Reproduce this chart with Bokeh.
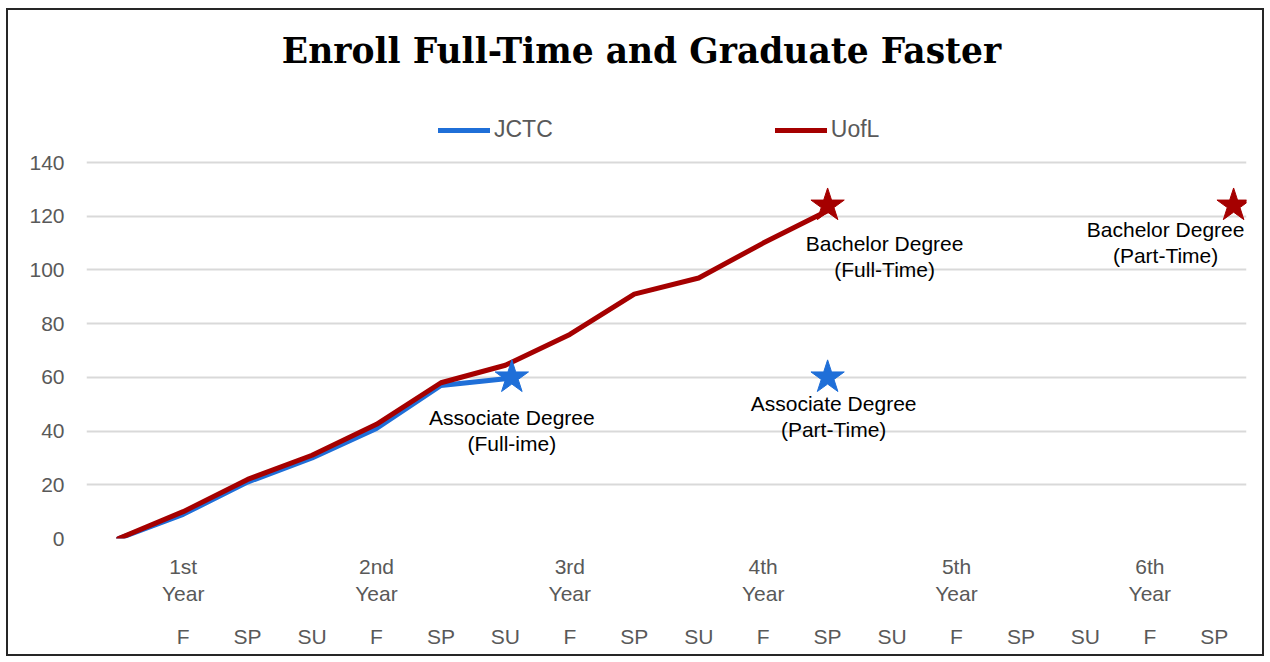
from bokeh.plotting import figure
from bokeh.models import Range1d, LinearAxis, FixedTicker, Label, Legend, LegendItem
from bokeh.embed import file_html
from bokeh.resources import INLINE

# ---------------- data ----------------
title_text = "Enroll Full-Time and Graduate Faster"
seasons = ["", "F", "SP", "SU", "F", "SP", "SU", "F", "SP", "SU",
           "F", "SP", "SU", "F", "SP", "SU", "F", "SP"]
years = ["1st\nYear", "2nd\nYear", "3rd\nYear", "4th\nYear", "5th\nYear", "6th\nYear"]
year_pos = [1, 4, 7, 10, 13, 16]
y_ticks = [0, 20, 40, 60, 80, 100, 120, 140]

series_names = ["JCTC", "UofL"]
jctc = [0, 9, 21, 30, 41, 57, 59.5]
uofl = [0, 10, 22, 31, 42.5, 58, 64.5, 76, 91, 97, 110, 122]

milestone_x = [6.1, 11, 11, 17.3]
milestone_y = [60, 60, 124, 124]
milestone_series = ["JCTC", "JCTC", "UofL", "UofL"]
milestone_labels = ["Associate Degree\n(Full-ime)", "Associate Degree\n(Part-Time)",
                    "Bachelor Degree\n(Full-Time)", "Bachelor Degree\n(Part-Time)"]

# ---------------- style / layout ----------------
colors = {"JCTC": "#1f6fd8", "UofL": "#a50000"}
label_offsets = [(0, -29), (6, -15), (57, -27), (-68, -13)]
FONT = "Liberation Sans"
GREY = "#595959"
Y_TOP = 196.6  # headroom above 140 that holds the title and legend

p = figure(width=1258, height=648, x_range=Range1d(-0.5, 17.5), y_range=Range1d(0, Y_TOP),
           x_axis_location=None, title_location=None, toolbar_location=None,
           output_backend="svg",
           min_border_left=78, min_border_right=20, min_border_top=0, min_border_bottom=120)
p.outline_line_color = None
p.styles = {"border": "2px solid #262626", "margin-left": "6px", "margin-top": "8px"}

# y axis
p.yaxis.ticker = FixedTicker(ticks=y_ticks)
p.yaxis.axis_line_color = None
p.yaxis.major_tick_line_color = None
p.yaxis.minor_tick_line_color = None
p.yaxis.major_tick_out = 0
p.yaxis.major_label_standoff = 22
p.yaxis.major_label_text_font = FONT
p.yaxis.major_label_text_font_size = "21px"
p.yaxis.major_label_text_color = GREY
p.ygrid.ticker = FixedTicker(ticks=y_ticks)
p.ygrid.grid_line_color = "#d9d9d9"
p.ygrid.grid_line_width = 2
p.xgrid.visible = False

# x axes (years, then seasons)
year_axis = LinearAxis(ticker=FixedTicker(ticks=year_pos),
                       major_label_overrides={pos: lbl for pos, lbl in zip(year_pos, years)})
season_ticks = [i for i, s in enumerate(seasons) if s]
season_axis = LinearAxis(ticker=FixedTicker(ticks=season_ticks),
                         major_label_overrides={i: seasons[i] for i in season_ticks})
for ax, standoff in ((year_axis, 16), (season_axis, 16)):
    ax.axis_line_color = None
    ax.major_tick_line_color = None
    ax.minor_tick_line_color = None
    ax.major_tick_out = 0
    ax.major_tick_in = 0
    ax.major_label_standoff = standoff
    ax.major_label_text_font = FONT
    ax.major_label_text_font_size = "21px"
    ax.major_label_text_color = GREY
    p.add_layout(ax, "below")

# lines
r_j = p.line(list(range(len(jctc))), jctc, line_color=colors["JCTC"], line_width=5,
             line_cap="round", line_join="round")
r_u = p.line(list(range(len(uofl))), uofl, line_color=colors["UofL"], line_width=5,
             line_cap="round", line_join="round")

# milestone stars
p.scatter(milestone_x, milestone_y, marker="star", size=35,
          fill_color=[colors[s] for s in milestone_series],
          line_color=[colors[s] for s in milestone_series])

for mx, my, txt, (dx, dy) in zip(milestone_x, milestone_y, milestone_labels, label_offsets):
    p.add_layout(Label(x=mx, y=my, x_offset=dx, y_offset=dy, text=txt,
                       text_align="center", text_baseline="top",
                       text_font=FONT, text_font_size="21px", text_color="black",
                       text_line_height=1.12))

# title (screen units from the plot area's bottom-left corner)
p.add_layout(Label(x=555, y=488, x_units="screen", y_units="screen", text=title_text,
                   text_align="center", text_baseline="middle",
                   text_font="DejaVu Serif", text_font_style="bold",
                   text_font_size="34.5px", text_color="black"))

# legend
legend = Legend(items=[LegendItem(label=series_names[0], renderers=[r_j]),
                       LegendItem(label=series_names[1], renderers=[r_u])],
                location=(352, 395), orientation="horizontal",
                glyph_width=52, glyph_height=20, label_standoff=4, spacing=222,
                padding=0, margin=0, border_line_color=None, background_fill_alpha=0,
                label_text_font=FONT, label_text_font_size="23px", label_text_color=GREY)
p.add_layout(legend)

open("out.html", "w").write(file_html(p, INLINE))
